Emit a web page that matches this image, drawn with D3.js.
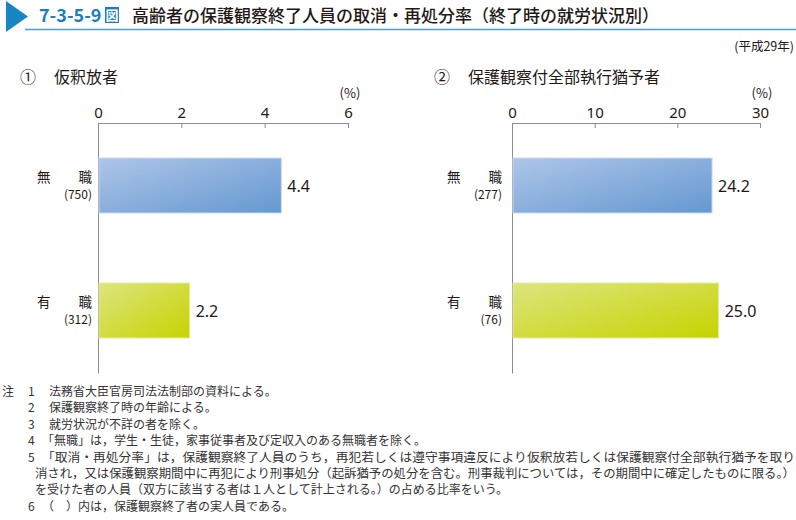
<!DOCTYPE html>
<html>
<head>
<meta charset="utf-8">
<script src="https://cdn.jsdelivr.net/npm/d3@7"></script>
<style>
  body { margin: 0; background: #fff; }
  svg { display: block; font-family: "Noto Sans CJK JP", "Noto Sans", sans-serif; }
</style>
</head>
<body>
<svg id="chart" width="796" height="520"></svg>
<script>
// data
const categories = ['無職', '有職'];
const parolee = [4.4, 2.2];          // ① 仮釈放者 (%)
const paroleeCounts = [750, 312];
const probation = [24.2, 25.0];      // ② 保護観察付全部執行猶予者 (%)
const probationCounts = [277, 76];
const ticks1 = [0, 2, 4, 6];
const ticks2 = [0, 10, 20, 30];
const notes = [
  ['注', '1', '法務省大臣官房司法法制部の資料による。'],
  ['', '2', '保護観察終了時の年齢による。'],
  ['', '3', '就労状況が不詳の者を除く。'],
  ['', '4', '「無職」は，学生・生徒，家事従事者及び定収入のある無職者を除く。'],
  ['', '5', '「取消・再処分率」は，保護観察終了人員のうち，再犯若しくは遵守事項違反により仮釈放若しくは保護観察付全部執行猶予を取り'],
  ['', '', '消され，又は保護観察期間中に再犯により刑事処分（起訴猶予の処分を含む。刑事裁判については，その期間中に確定したものに限る。）'],
  ['', '', 'を受けた者の人員（双方に該当する者は１人として計上される。）の占める比率をいう。'],
  ['', '6', '（　）内は，保護観察終了者の実人員である。']
];

const ink = '#231815';
const svg = d3.select('#chart');

// gradients for the bars
const defs = svg.append('defs');
const grads = [
  { id: 'gBlue', from: '#aec5e8', to: '#6598d1' },
  { id: 'gGreen', from: '#dde57e', to: '#c6d300' }
];
grads.forEach((g) => {
  const lg = defs.append('linearGradient').attr('id', g.id)
    .attr('x1', '0%').attr('y1', '0%').attr('x2', '100%').attr('y2', '100%');
  lg.append('stop').attr('offset', '0%').attr('stop-color', g.from);
  lg.append('stop').attr('offset', '100%').attr('stop-color', g.to);
});
const barFill = ['url(#gBlue)', 'url(#gGreen)'];
const barEdge = ['#c9dbf2', '#e6ee9c'];

// header
svg.append('path').attr('d', 'M6,1 L28,16.5 L6,32 Z').attr('fill', '#1786c2');
svg.append('line').attr('x1', 25).attr('x2', 796).attr('y1', 29.5).attr('y2', 29.5)
  .attr('stroke', '#4a9fd3').attr('stroke-width', 1.6);
svg.append('text').attr('x', 39).attr('y', 22).text('7-3-5-9')
  .attr('font-size', 18).attr('font-weight', 'bold').attr('fill', '#1a7fc1');
svg.append('rect').attr('x', 105).attr('y', 7).attr('width', 14).attr('height', 16).attr('fill', '#1a7fc1');
svg.append('text').attr('x', 112).attr('y', 20).attr('text-anchor', 'middle').text('図')
  .attr('font-size', 13).attr('font-weight', 'bold').attr('fill', '#fff');
svg.append('text').attr('x', 132).attr('y', 22)
  .text('高齢者の保護観察終了人員の取消・再処分率（終了時の就労状況別）')
  .attr('font-size', 17).attr('font-weight', 500).attr('fill', ink);
svg.append('text').attr('x', 794).attr('y', 51).attr('text-anchor', 'end')
  .text('(平成29年)').attr('font-size', 12.5).attr('fill', ink);

function panel(opt) {
  const g = svg.append('g');
  const x = d3.scaleLinear().domain([0, d3.max(opt.ticks)]).range([opt.x0, opt.x1]);
  const y = d3.scaleBand().domain(categories).range([123, 373])
    .paddingInner(0.56).paddingOuter(0.28);

  // panel title
  g.append('text').attr('x', opt.numX).attr('y', 83).text(opt.num)
    .attr('font-size', 16).attr('fill', ink);
  g.append('text').attr('x', opt.titleX).attr('y', 83).text(opt.title)
    .attr('font-size', 16).attr('fill', ink);

  // top axis
  const xAxis = d3.axisTop(x).tickValues(opt.ticks).tickFormat(d3.format('d'))
    .tickSizeInner(-5).tickSizeOuter(0).tickPadding(5);
  const ax = g.append('g').attr('transform', `translate(0,${y.range()[0]})`).call(xAxis);
  ax.select('.domain').attr('stroke', '#8c8c8c');
  ax.selectAll('.tick line').attr('stroke', '#8c8c8c');
  ax.selectAll('.tick text').attr('font-size', 15).attr('fill', ink)
    .attr('font-family', '"Noto Sans", sans-serif');
  g.append('text').attr('x', x.range()[1] + 2).attr('y', 98).attr('text-anchor', 'middle')
    .text('(%)').attr('font-size', 13).attr('fill', ink);

  // vertical axis
  const yAxis = d3.axisLeft(y).tickSize(0).tickFormat('');
  const ay = g.append('g').attr('transform', `translate(${opt.x0},0)`).call(yAxis);
  ay.select('.domain').attr('stroke', '#8c8c8c');

  // bars
  g.selectAll('rect.bar').data(opt.values).enter().append('rect')
    .attr('class', 'bar')
    .attr('x', x(0) + 1)
    .attr('y', (d, i) => y(categories[i]))
    .attr('width', (d) => x(d) - x(0) - 1)
    .attr('height', y.bandwidth())
    .attr('fill', (d, i) => barFill[i])
    .attr('stroke', (d, i) => barEdge[i])
    .attr('stroke-width', 1);

  // value labels
  g.selectAll('text.val').data(opt.values).enter().append('text')
    .attr('class', 'val')
    .attr('x', (d) => x(d) + 6)
    .attr('y', (d, i) => y(categories[i]) + y.bandwidth() / 2 + 6)
    .text((d) => d.toFixed(1))
    .attr('font-size', 16).attr('fill', ink)
    .attr('font-family', '"Noto Sans", sans-serif');

  // category labels
  categories.forEach((c, i) => {
    const cy = y(c) + y.bandwidth() / 2;
    g.append('text').attr('x', opt.labelStart).attr('y', cy - 4).text(c[0])
      .attr('font-size', 13.5).attr('fill', ink);
    g.append('text').attr('x', opt.labelEnd).attr('y', cy - 4).attr('text-anchor', 'end').text(c[1])
      .attr('font-size', 13.5).attr('fill', ink);
    g.append('text').attr('x', opt.labelEnd).attr('y', cy + 13).attr('text-anchor', 'end')
      .text(`(${opt.counts[i]})`).attr('font-size', 12).attr('fill', ink);
  });
}

panel({
  num: '①', title: '仮釈放者', numX: 20, titleX: 54,
  values: parolee, counts: paroleeCounts, ticks: ticks1,
  x0: 98, x1: 348, labelStart: 37, labelEnd: 92
});
panel({
  num: '②', title: '保護観察付全部執行猶予者', numX: 434, titleX: 468,
  values: probation, counts: probationCounts, ticks: ticks2,
  x0: 512, x1: 760, labelStart: 447, labelEnd: 502
});

// notes
const noteTop = 396;
const noteStep = 16.4;
const noteInk = '#333';
notes.forEach((n, i) => {
  const ty = noteTop + i * noteStep;
  if (n[0]) svg.append('text').attr('x', 2).attr('y', ty).text(n[0]).attr('font-size', 12).attr('fill', noteInk);
  if (n[1]) svg.append('text').attr('x', 28).attr('y', ty).text(n[1]).attr('font-size', 12).attr('fill', noteInk);
  const startsBracket = /^[「（]/.test(n[2]);
  const tx = n[1] ? (startsBracket ? 42 : 49) : 35;
  const t = svg.append('text').attr('x', tx).attr('y', ty).text(n[2])
    .attr('font-size', 12).attr('fill', noteInk);
  if (i === 4 || i === 5) {
    t.attr('textLength', 795 - tx).attr('lengthAdjust', 'spacingAndGlyphs');
  }
});
</script>
</body>
</html>
